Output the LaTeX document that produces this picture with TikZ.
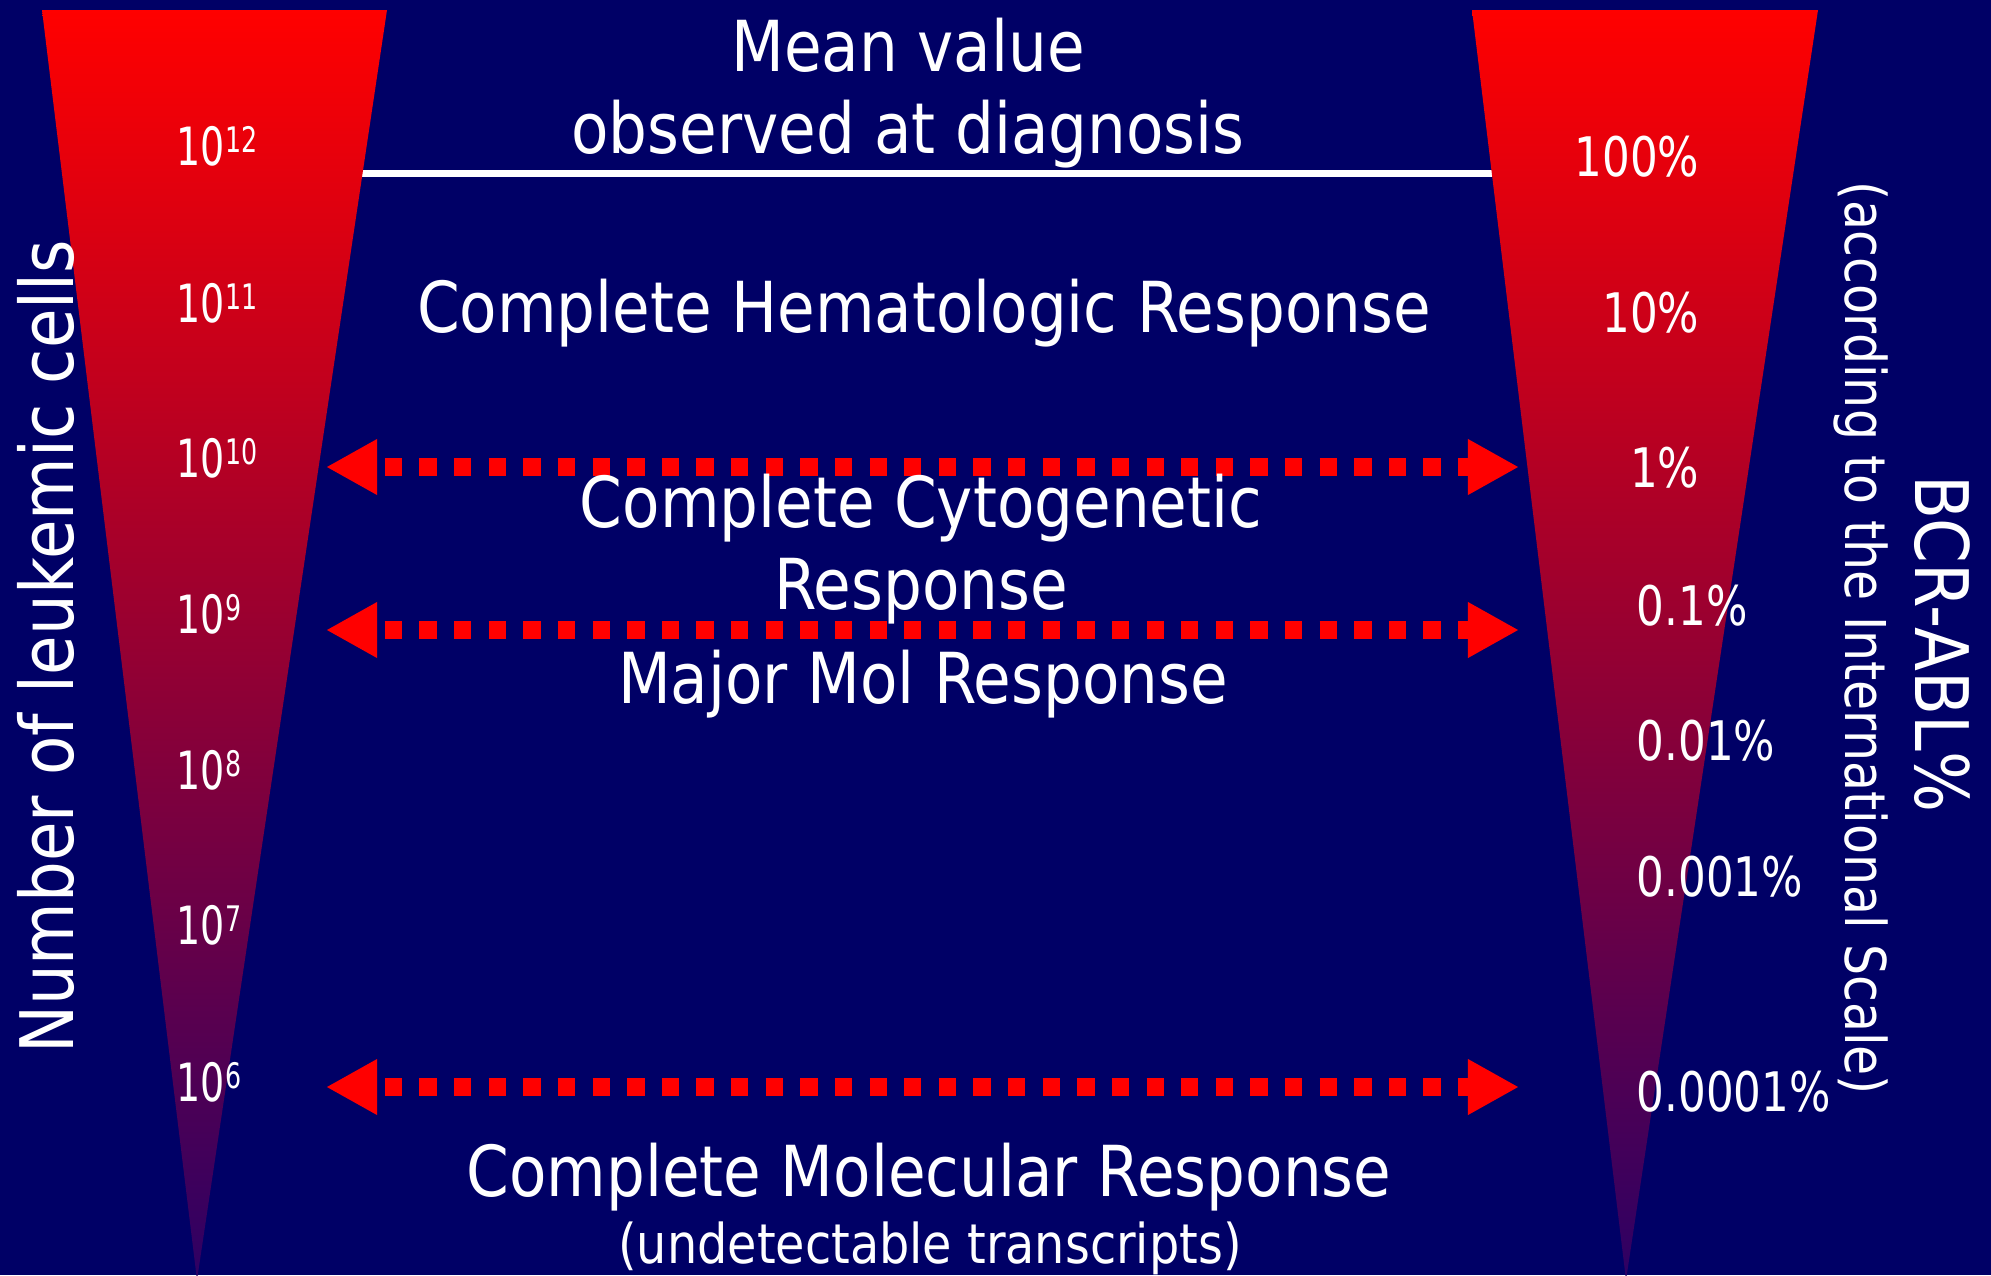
\documentclass[tikz,border=0pt]{standalone}
\usepackage{fontspec}
\setmainfont{DejaVu Sans}[FakeStretch=0.87]
\newfontfamily\numfont{DejaVu Sans}[FakeStretch=0.72]
\newfontfamily\pctfont{DejaVu Sans}[FakeStretch=0.8]
\usetikzlibrary{arrows.meta}
\definecolor{bgnavy}{RGB}{0,0,102}
\definecolor{gtop}{RGB}{255,0,0}
\definecolor{gmid}{RGB}{205,0,62}
\definecolor{gbot}{RGB}{45,0,100}
\definecolor{arrred}{RGB}{255,0,0}
\newcommand\expo[1]{\raisebox{0.13cm}{\fontsize{10}{12}\selectfont #1}}
\tikzset{
  maintext/.style={text=white, inner sep=0pt, font=\fontsize{20}{23.3}\selectfont, align=center},
  axistext/.style={text=white, inner sep=0pt, font=\fontsize{21}{25}\selectfont},
  subtext/.style={text=white, inner sep=0pt, font=\fontsize{15.6}{18}\selectfont},
  istext/.style={text=white, inner sep=0pt, font=\fontsize{16}{19}\selectfont},
  numlabel/.style={text=white, inner sep=0pt, font=\numfont\fontsize{15}{18}\selectfont},
  pctlabel/.style={text=white, inner sep=0pt, font=\pctfont\fontsize{15.5}{18}\selectfont},
  levelarrow/.style={draw=arrred, line width=0.173cm, dash pattern=on 0.173cm off 0.173cm,
    dash phase=0.236cm,
    {Triangle[length=0.51cm,width=0.52cm]}-{Triangle[length=0.51cm,width=0.52cm]}},
  wedge/.style={top color=gtop, middle color=gmid, bottom color=gbot},
  whiteline/.style={draw=white, line width=0.07cm},
}
\begin{document}
\begin{tikzpicture}[x=0.01cm, y=-0.01cm]
\useasboundingbox (0,0) rectangle (1991,1275);
\fill[bgnavy] (0,0) rectangle (1991,1275);

% white reference line
\coordinate (wl) at (350,173);
\coordinate (wr) at (1500,173);
\draw[whiteline] (wl) -- (wr);

% wedges
\shade[wedge] (42,10) -- (387,10) -- (197,1280) -- cycle;
\shade[wedge] (1472,10) -- (1818,10) -- (1626,1280) -- cycle;

% level arrows
\coordinate (a1l) at (326,467);  \coordinate (a1r) at (1519,467);
\coordinate (a2l) at (326,630);  \coordinate (a2r) at (1519,630);
\coordinate (a3l) at (326,1087); \coordinate (a3r) at (1519,1087);
\draw[levelarrow] (a1l) -- (a1r);
\draw[levelarrow] (a2l) -- (a2r);
\draw[levelarrow] (a3l) -- (a3r);

% central texts
\node[maintext, anchor=base] (mean) at (908,153) {Mean value\\observed at diagnosis};
\node[maintext, anchor=base] (chr) at (924,332) {Complete Hematologic Response};
\node[maintext, anchor=base] (ccyr) at (921,609) {Complete Cytogenetic\\Response};
\node[maintext, anchor=base] (mmr) at (923,703) {Major Mol Response};
\node[maintext, anchor=base] (cmr) at (929,1196) {Complete Molecular Response};
\node[subtext, anchor=base] (undet) at (930,1263) {(undetectable transcripts)};

% axis titles
\node[axistext, anchor=base, rotate=90] (ylab) at (73,647) {Number of leukemic cells};
\node[axistext, anchor=base, rotate=-90] (bcr) at (1915,644) {BCR-ABL\%};
\node[istext, anchor=base, rotate=-90] (is) at (1845,638) {(according to the International Scale)};

% left scale
\node[numlabel, anchor=base west] (e12) at (176,165) {10\expo{12}};
\node[numlabel, anchor=base west] (e11) at (176,322) {10\expo{11}};
\node[numlabel, anchor=base west] (e10) at (176,477) {10\expo{10}};
\node[numlabel, anchor=base west] (e9) at (176,633) {10\expo{9}};
\node[numlabel, anchor=base west] (e8) at (176,789) {10\expo{8}};
\node[numlabel, anchor=base west] (e7) at (176,944) {10\expo{7}};
\node[numlabel, anchor=base west] (e6) at (176,1101) {10\expo{6}};

% right scale
\node[pctlabel, anchor=base east] (p100) at (1700,176) {100\%};
\node[pctlabel, anchor=base east] (p10) at (1700,332) {10\%};
\node[pctlabel, anchor=base east] (p1) at (1700,487) {1\%};
\node[pctlabel, anchor=base west] (p01) at (1636,625) {0.1\%};
\node[pctlabel, anchor=base west] (p001) at (1636,760) {0.01\%};
\node[pctlabel, anchor=base west] (p0001) at (1636,896) {0.001\%};
\node[pctlabel, anchor=base west] (p00001) at (1636,1111) {0.0001\%};
\end{tikzpicture}
\end{document}
